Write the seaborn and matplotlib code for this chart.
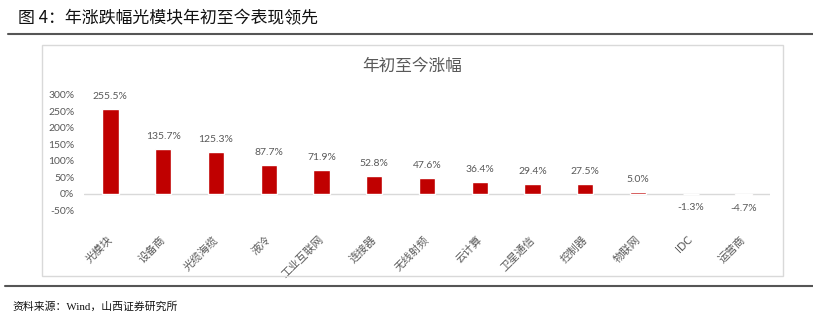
import matplotlib
matplotlib.use("Agg")
import matplotlib.pyplot as plt
import seaborn as sns
import pandas as pd
from matplotlib.lines import Line2D
from matplotlib.patches import Rectangle

categories = ["光模块", "设备商", "光缆海缆", "液冷", "工业互联网", "连接器", "无线射频",
              "云计算", "卫星通信", "控制器", "物联网", "IDC", "运营商"]
values = [255.5, 135.7, 125.3, 87.7, 71.9, 52.8, 47.6, 36.4, 29.4, 27.5, 5.0, -1.3, -4.7]
yticks = [-50, 0, 50, 100, 150, 200, 250, 300]

fig_title = "图 4：年涨跌幅光模块年初至今表现领先"
chart_title = "年初至今涨幅"
source = "资料来源：Wind，山西证券研究所"

sns.set_theme(style="white")
plt.rcParams["font.family"] = ["Lato", "Noto Sans CJK SC", "DejaVu Sans"]

W, H = 813, 324
fig = plt.figure(figsize=(W / 100, H / 100), dpi=100)
fig.patch.set_facecolor("white")

ax = fig.add_axes([84 / W, 1 - 210 / H, 686 / W, 115.3 / H])
df = pd.DataFrame({"cat": categories, "val": values})
sns.barplot(data=df, x="cat", y="val", color="#C00000", saturation=1, width=0.31, ax=ax)

ax.set_xlim(-0.5, len(categories) - 0.5)
ax.set_ylim(-50, 300)
ax.set_yticks(yticks)
ax.set_yticklabels([f"{t}%" for t in yticks])
ax.set_xlabel("")
ax.set_ylabel("")
for s in ax.spines.values():
    s.set_visible(False)
ax.axhline(0, color="#d9d9d9", lw=1, zorder=0)
ax.tick_params(axis="y", length=0, pad=7, labelsize=7.5, labelcolor="#595959")
ax.tick_params(axis="x", length=0, pad=20, labelsize=7.8, labelcolor="#595959")
ax.set_xticks(range(len(categories)))
ax.set_xticklabels(categories, rotation=45, ha="right", va="center", rotation_mode="anchor")
ax.set_facecolor("none")

for i, v in enumerate(values):
    off = 9 if v >= 0 else -9.5
    ax.annotate(f"{v:.1f}%", xy=(i, v), xytext=(0, off), textcoords="offset points",
                ha="center", va="center", fontsize=7.5, color="#595959")

# chart box
fig.add_artist(Rectangle((42 / W, 1 - 276 / H), (783 - 42) / W, (276 - 45) / H,
                         transform=fig.transFigure, fill=False, edgecolor="#d9d9d9", lw=1))
fig.text(412 / W, 1 - 66 / H, chart_title, ha="center", va="center", fontsize=12,
         color="#595959", family=["Noto Sans CJK SC"])

# report frame
fig.add_artist(Line2D([8 / W, 1], [1 - 34 / H] * 2, color="#555555", lw=1.5))
fig.add_artist(Line2D([5 / W, 1], [1 - 286 / H] * 2, color="#555555", lw=1.5))
fig.text(18 / W, 1 - 18 / H, fig_title, ha="left", va="center", fontsize=12.2,
         color="#111111", family=["Noto Sans CJK SC", "DejaVu Sans"])
fig.text(12 / W, 1 - 307 / H, source, ha="left", va="center", fontsize=7.8,
         color="#111111", family=["Liberation Serif", "Noto Sans CJK SC"])

fig.savefig("out.png", dpi=100)
